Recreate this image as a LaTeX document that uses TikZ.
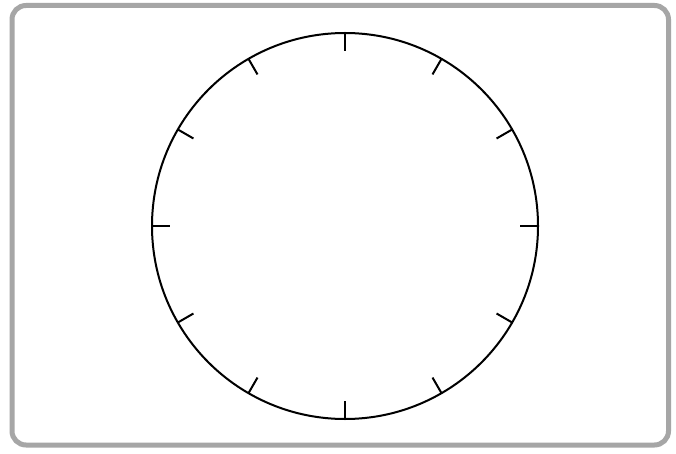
\documentclass[tikz,border=0pt]{standalone}
\usetikzlibrary{calc}
\begin{document}
\begin{tikzpicture}[x=1pt,y=-1pt,
  frame/.style={draw=black!35,line width=5pt,rounded corners=14pt},
  dial/.style={draw=black,line width=2pt},
  tick/.style={draw=black,line width=2pt}]
\useasboundingbox (0,0) rectangle (676,454);
\fill[white] (0,0) rectangle (676,454);
\draw[frame] (12,5.5) rectangle (668.5,445);
\coordinate (c) at (345,226);
\draw[dial] (c) circle (193);
\foreach \a in {0,30,...,330}{
  \draw[tick] ($(c)+(\a:193)$) -- ($(c)+(\a:175)$);
}
\end{tikzpicture}
\end{document}
